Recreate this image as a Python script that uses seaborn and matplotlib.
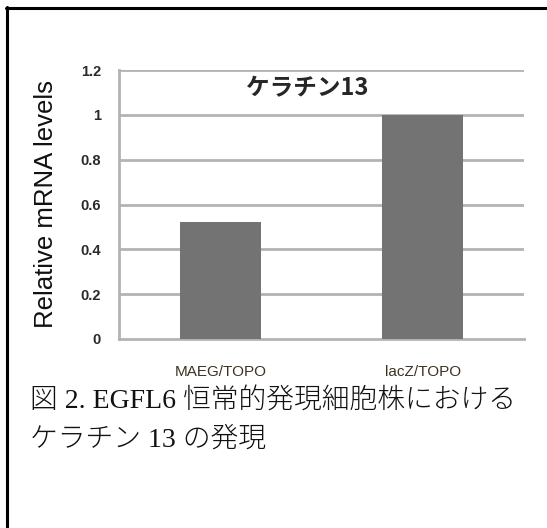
import matplotlib
matplotlib.use("Agg")
import matplotlib.pyplot as plt
from matplotlib.lines import Line2D
import seaborn as sns
import pandas as pd

categories = ["MAEG/TOPO", "lacZ/TOPO"]
values = [0.52, 1.0]
y_ticks = [0, 0.2, 0.4, 0.6, 0.8, 1, 1.2]
y_tick_labels = ["0", "0.2", "0.4", "0.6", "0.8", "1", "1.2"]
chart_title = "ケラチン13"
y_label = "Relative mRNA levels"
caption_lines = ["図 2. EGFL6 恒常的発現細胞株における", "ケラチン 13 の発現"]

df = pd.DataFrame({"sample": categories, "level": values})

sns.set_style("white")
plt.rcParams["font.family"] = ["Liberation Sans", "Noto Sans CJK JP", "DejaVu Sans"]

W, H = 547, 528
fig = plt.figure(figsize=(W / 100, H / 100), dpi=100)
ax = fig.add_axes([119 / W, 1 - 339 / H, (524 - 119) / W, (339 - 70) / H])

grid_col = "#b3b3b3"
sns.barplot(data=df, x="sample", y="level", color="#737373", saturation=1,
            width=0.4, linewidth=0, ax=ax, zorder=3)

ax.set_xlim(-0.5, 1.5)
ax.set_ylim(0, 1.2)
ax.set_yticks(y_ticks)
ax.set_yticklabels(y_tick_labels)
for y in y_ticks[1:]:
    ax.axhline(y, color=grid_col, lw=2, zorder=1)

for side in ["top", "right"]:
    ax.spines[side].set_visible(False)
for side in ["left", "bottom"]:
    ax.spines[side].set_color(grid_col)
    ax.spines[side].set_linewidth(2)

ax.set_xticks([-0.5, 0.5, 1.5], minor=True)
ax.tick_params(axis="x", which="minor", length=5, width=1.5, color=grid_col, direction="out")
ax.tick_params(axis="x", which="major", length=0, pad=19, labelsize=11, labelcolor="#3d3222")
ax.tick_params(axis="y", length=5, width=1.5, color=grid_col, direction="out",
               pad=8, labelsize=10.5, labelcolor="#2a2a2a")
for t in ax.get_yticklabels():
    t.set_fontweight("bold")

ax.set_xlabel("")
ax.set_ylabel(y_label, fontsize=18.5, color="#111111")
ax.yaxis.set_label_coords((58 - 119) / (524 - 119), 0.5)

fig.text(307 / W, 1 - 88 / H, chart_title, ha="center", va="center",
         fontsize=17, fontweight="bold", family=["Noto Sans CJK JP", "DejaVu Sans"])

cap_font = ["Liberation Serif", "Noto Sans CJK JP", "DejaVu Sans"]
fig.text(30 / W, 1 - 402 / H, caption_lines[0], ha="left", va="center",
         fontsize=20, fontweight="light", family=cap_font, color="#111111")
fig.text(30 / W, 1 - 440 / H, caption_lines[1], ha="left", va="center",
         fontsize=20, fontweight="light", family=cap_font, color="#111111")

# outer frame (top and left edges)
fig.add_artist(Line2D([6 / W, 1], [1 - 7.5 / H, 1 - 7.5 / H], color="black", lw=2.2,
                      transform=fig.transFigure))
fig.add_artist(Line2D([7 / W, 7 / W], [0, 1 - 7 / H], color="black", lw=2.2,
                      transform=fig.transFigure))

fig.savefig("out.png", dpi=100)
